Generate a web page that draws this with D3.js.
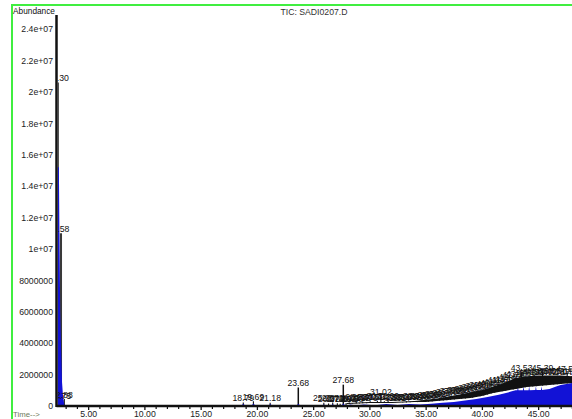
<!DOCTYPE html>
<html>
<head>
<meta charset="utf-8">
<script src="https://cdn.jsdelivr.net/npm/d3@7"></script>
<style>
  html, body { margin: 0; padding: 0; background: #fff; }
  svg { display: block; }
  text { font-family: "Liberation Sans", Arial, sans-serif; }
</style>
</head>
<body>
<svg id="chart" width="572" height="419"></svg>
<script>
// ---- Chromatogram data (TIC) ----
const title = "TIC: SADI0207.D";
const yLabel = "Abundance";
const xLabel = "Time-->";

const yTickValues = [0, 2e6, 4e6, 6e6, 8e6, 1e7, 1.2e7, 1.4e7, 1.6e7, 1.8e7, 2e7, 2.2e7, 2.4e7];
const yTickLabels = ["0", "2000000", "4000000", "6000000", "8000000", "1e+07", "1.2e+07",
                     "1.4e+07", "1.6e+07", "1.8e+07", "2e+07", "2.2e+07", "2.4e+07"];
const xTickValues = [5, 10, 15, 20, 25, 30, 35, 40, 45];
const xTickLabels = ["5.00", "10.00", "15.00", "20.00", "25.00", "30.00", "35.00", "40.00", "45.00"];

// Integrated peaks: retention time (min) and apex abundance
const peakTimes = [2.30, 2.58, 2.75, 2.88, 18.79, 19.69, 21.18, 23.68, 25.95, 26.37, 26.74, 27.15, 27.40, 27.68,
  27.92, 28.21, 28.50, 28.83, 29.12, 29.41, 29.76, 30.07, 30.39, 30.71,
  31.02, 31.33, 31.66, 31.98, 32.31, 32.64, 32.97, 33.29, 33.62, 33.95,
  34.28, 34.60, 34.93, 35.26, 35.58, 35.91, 36.24, 36.57, 36.89, 37.22,
  37.55, 37.88, 38.20, 38.53, 38.86, 39.18, 39.51, 39.84, 40.16, 40.49,
  40.82, 41.14, 41.47, 41.80, 42.12, 42.45, 42.78, 43.10, 43.53, 43.86,
  44.19, 44.52, 44.85, 45.39, 45.72, 46.05, 46.38, 46.71, 47.04, 47.58, 47.95];
const peakHeights = [20600000, 11000000, 380000, 440000, 220000, 300000, 200000, 1180000, 200000, 160000, 220000, 170000, 150000, 1360000,
  180000, 220000, 170000, 260000, 200000, 280000, 220000, 300000, 260000, 340000,
  600000, 300000, 360000, 260000, 220000, 200000, 260000, 300000, 270000, 320000,
  300000, 360000, 340000, 400000, 420000, 460000, 500000, 550000, 580000, 640000,
  660000, 720000, 740000, 780000, 840000, 900000, 960000, 1020000, 1060000, 1120000,
  1200000, 1270000, 1340000, 1400000, 1460000, 1560000, 1660000, 1760000, 2120000, 1840000,
  1900000, 1860000, 1920000, 2150000, 1880000, 1930000, 1890000, 1920000, 1880000, 2080000, 1900000];

// Unresolved hump of late-eluting compounds (lower / upper edge of the trace)
const bandTimes = [27.8, 28, 30, 32, 34, 35, 36, 37, 38, 39, 40, 41, 42, 43, 44, 45, 46, 47, 48, 50];
const bandLow   = [0, 130000, 190000, 190000, 250000, 250000, 320000, 380000, 450000, 510000, 640000, 830000, 960000, 1080000, 1210000, 1270000, 1340000, 1400000, 1460000, 1500000];
const bandHigh  = [0, 190000, 250000, 250000, 320000, 400000, 480000, 600000, 740000, 880000, 1020000, 1220000, 1480000, 1780000, 1900000, 1950000, 1950000, 1950000, 1900000, 1850000];

// Integrated (filled) area under the signal
const fillTimes = [2.187, 2.40, 2.46, 2.52, 2.60, 2.68, 2.78, 2.90,
  18.6, 18.79, 19.0, 19.5, 19.69, 19.9, 21.0, 21.18, 21.4, 23.5, 23.68, 23.9,
  25.8, 25.95, 26.1, 26.6, 26.74, 26.9, 27.5, 27.68, 27.9,
  28.3, 28.8, 29.5, 30.5, 31.5, 32.5, 33.5, 34.5, 35.5, 36.5, 37.5, 38.5, 39.5, 40.5, 41.5, 42.5,
  43.0, 43.15, 43.2, 43.25, 43.65, 43.7, 43.75, 44.15, 44.2, 44.25, 44.75, 44.8, 44.85, 45.25, 45.3, 45.35,
  46.0, 46.6, 47.0, 48.0, 50.0];
const fillLevels = [15200000, 15200000, 10000000, 6000000, 3500000, 1500000, 500000, 0,
  0, 140000, 0, 0, 160000, 0, 0, 120000, 0, 0, 150000, 0,
  0, 110000, 0, 0, 120000, 0, 0, 160000, 0,
  100000, 30000, 100000, 50000, 120000, 60000, 120000, 100000, 150000, 200000, 250000, 350000, 450000, 580000, 720000, 900000,
  1000000, 1000000, 1250000, 1000000, 1000000, 1250000, 1000000, 1000000, 1250000, 1000000, 1020000, 1250000, 1020000, 1020000, 1250000, 1020000,
  1080000, 1250000, 1340000, 1460000, 1500000];

// ---- Layout ----
const svg = d3.select("#chart");
const plotLeft = 56.5, plotBottom = 406, plotTop = 15, plotRight = 572;
const tStart = 2.187, tEnd = 50;

const x = d3.scaleLinear().domain([tStart, tEnd]).range([plotLeft, plotLeft + (tEnd - tStart) * 11.25]);
const y = d3.scaleLinear().domain([0, 2.4e7]).range([plotBottom, 29.2]);

const FONT = 8.7;
const INK = "#111";
const BLUE = "#1212d6";

// Outer frame
svg.append("rect")
  .attr("x", 12).attr("y", 5).attr("width", 700).attr("height", 600)
  .attr("fill", "none").attr("stroke", "#40ee40").attr("stroke-width", 2);

const defs = svg.append("defs");
defs.append("clipPath").attr("id", "plot-clip")
  .append("rect").attr("x", plotLeft + 1.3).attr("y", plotTop)
  .attr("width", plotRight - plotLeft).attr("height", plotBottom - plotTop + 1);

const peaks = peakTimes.map((t, i) => ({ t, h: peakHeights[i] }));
const band = bandTimes.map((t, i) => ({ t, lo: bandLow[i], hi: bandHigh[i] }));
const fill = fillTimes.map((t, i) => ({ t, v: fillLevels[i] }));

// base of each peak stroke follows the lower edge of the hump
const bandBase = d3.scaleLinear().domain(bandTimes).range(bandLow).clamp(true);
const baseOf = t => (t < bandTimes[0] ? 0 : bandBase(t));

const plot = svg.append("g").attr("clip-path", "url(#plot-clip)");

// Peak strokes (signal apexes)
plot.append("g").selectAll("line").data(peaks).join("line")
  .attr("x1", d => x(d.t)).attr("x2", d => x(d.t))
  .attr("y1", d => y(baseOf(d.t))).attr("y2", d => y(d.h))
  .attr("stroke", d => d.h > 5e6 ? "#3a3a3a" : INK)
  .attr("stroke-width", d => d.h > 5e6 ? 2.2 : (d.h > 1e6 && d.t < 28 ? 1.5 : 1.1));

// Integrated areas
plot.append("path").datum(fill)
  .attr("d", d3.area().x(d => x(d.t)).y0(y(0)).y1(d => y(d.v)))
  .attr("fill", BLUE);

// Late unresolved hump
plot.append("path").datum(band)
  .attr("d", d3.area().x(d => x(d.t)).y0(d => y(d.lo)).y1(d => y(d.hi)))
  .attr("fill", INK);

// Retention-time labels at the peak apexes
const fmt = d3.format(".2f");
const labels = plot.append("g").selectAll("text").data(peaks).join("text")
  .attr("font-size", FONT)
  .attr("fill", INK)
  .attr("text-anchor", "middle")
  .attr("y", d => y(d.h) - 1.5)
  .text(d => fmt(d.t));
labels.each(function (d) {
  const w = this.getComputedTextLength();
  d3.select(this).attr("x", Math.max(x(d.t), 52 + w / 2));
});

// X axis: minor ticks every minute, major every five
const minorTicks = d3.range(3, 50).filter(v => v % 5 !== 0);
const xMinor = svg.append("g").attr("transform", `translate(0,${plotBottom})`)
  .call(d3.axisBottom(x).tickValues(minorTicks).tickSize(3).tickFormat(""));
xMinor.select(".domain").remove();
xMinor.selectAll("line").attr("stroke", INK).attr("stroke-width", 1.2);

const xAxis = svg.append("g").attr("transform", `translate(0,${plotBottom})`)
  .call(d3.axisBottom(x).tickValues(xTickValues).tickSize(4).tickPadding(1)
    .tickFormat((d, i) => xTickLabels[i]));
xAxis.select(".domain").remove();
xAxis.selectAll("line").attr("stroke", INK).attr("stroke-width", 1.3);
xAxis.selectAll("text").attr("font-size", FONT).attr("fill", "#222")
  .attr("font-family", "Liberation Sans, Arial, sans-serif");

// Y axis
const yAxis = svg.append("g").attr("transform", `translate(${plotLeft},0)`)
  .call(d3.axisLeft(y).tickValues(yTickValues).tickSize(0).tickPadding(3.5)
    .tickFormat((d, i) => yTickLabels[i]));
yAxis.select(".domain").remove();
yAxis.selectAll("text").attr("font-size", FONT).attr("fill", "#222")
  .attr("font-family", "Liberation Sans, Arial, sans-serif");

// Axis lines
svg.append("line").attr("x1", plotLeft).attr("x2", plotLeft)
  .attr("y1", plotTop).attr("y2", plotBottom + 1)
  .attr("stroke", INK).attr("stroke-width", 2.5);
svg.append("line").attr("x1", plotLeft).attr("x2", plotRight)
  .attr("y1", plotBottom).attr("y2", plotBottom)
  .attr("stroke", INK).attr("stroke-width", 2.5);

// Titles
svg.append("text").attr("x", 13).attr("y", 14).attr("font-size", 8.3)
  .attr("fill", INK).text(yLabel);
svg.append("text").attr("x", 314).attr("y", 14.5).attr("font-size", FONT)
  .attr("text-anchor", "middle").attr("fill", "#333").text(title);
svg.append("text").attr("x", 13).attr("y", 417).attr("font-size", 7.8)
  .attr("fill", "#6f7a5c").text(xLabel);
</script>
</body>
</html>
